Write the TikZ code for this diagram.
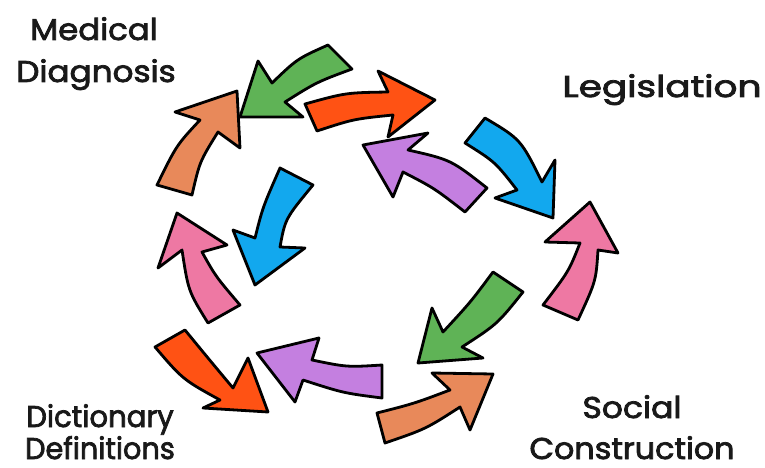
\documentclass[tikz,border=0pt]{standalone}
\usepackage{fontspec}
\setmainfont{Poppins}
\newfontfamily\lblfont{Poppins}[FakeBold=2.5]
\definecolor{csalmon}{HTML}{E8895A}
\definecolor{cred}{HTML}{FF5214}
\definecolor{cgreen}{HTML}{5FB356}
\definecolor{cblue}{HTML}{12A8EE}
\definecolor{cpurple}{HTML}{C47FE0}
\definecolor{cpink}{HTML}{EE78A3}
\begin{document}
\begin{tikzpicture}[x=1pt,y=-1pt,
  arr/.style={draw=black, line width=2.8pt, line join=round},
  lbl/.style={font=\lblfont\fontsize{30}{34}\selectfont, text=black!90, inner sep=0pt, anchor=base}]
\useasboundingbox (0,0) rectangle (765,468);

% 1 salmon upper-left
\filldraw[arr, fill=csalmon] (157,185) .. controls (176.5,145.2) .. (200,120) -- (175,112) -- (237,91) -- (240,148) -- (218,132) .. controls (199.7,161.5) .. (192,195) -- cycle;
% 2 green top
\filldraw[arr, fill=cgreen] (328,45) .. controls (297.3,58.7) .. (272,83) -- (258,61) -- (240,117) -- (303,117) -- (285,102) .. controls (316.5,82.2) .. (352,69) -- cycle;
% 3 red top
\filldraw[arr, fill=cred] (305,104) .. controls (345.8,92.7) .. (388,92) -- (378,71) -- (435,100) -- (388,137) -- (393,115) .. controls (353.7,119) .. (317,131) -- cycle;
% 4 blue upper-right
\filldraw[arr, fill=cblue] (485,118) .. controls (520.8,139.3) .. (542,182) -- (555,160) -- (553,218) -- (495,198) -- (517,190) .. controls (495,161.8) .. (465,143) -- cycle;
% 5 purple upper
\filldraw[arr, fill=cpurple] (487,188) .. controls (450.8,159.7) .. (408,150) -- (428,133) -- (363,145) -- (393,197) -- (403,172) .. controls (434,188) .. (465,212) -- cycle;
% 6 pink right
\filldraw[arr, fill=cpink] (543,305) .. controls (568.8,271.3) .. (580,243) -- (545,242) -- (590,202) -- (618,253) -- (598,250) .. controls (596,281) .. (578,320) -- cycle;
% 7 green lower-right
\filldraw[arr, fill=cgreen] (493,272) .. controls (470.7,302) .. (443,332) -- (432,308) -- (418,363) -- (483,358) -- (462,347) .. controls (497.2,324.2) .. (523,292) -- cycle;
% 8 salmon lower-right
\filldraw[arr, fill=csalmon] (377,413) .. controls (414.2,403.5) .. (450,390) -- (432,373) -- (493,374) -- (470,430) -- (460,407) .. controls (425.8,429) .. (385,443) -- cycle;
% 9 purple bottom
\filldraw[arr, fill=cpurple] (382,365) .. controls (347,367.2) .. (312,360) -- (319,338) -- (257,353) -- (295,402) -- (303,380) .. controls (343.2,393) .. (382,398) -- cycle;
% 10 red bottom-left
\filldraw[arr, fill=cred] (185,330) .. controls (207.7,357.7) .. (233,388) -- (248,358) -- (268,412) -- (203,408) -- (220,400) .. controls (182.8,379.5) .. (155,347) -- cycle;
% 11 pink left
\filldraw[arr, fill=cpink] (208,323) .. controls (188.3,291.2) .. (182,250) -- (158,268) -- (177,213) -- (227,245) -- (202,252) .. controls (215.7,276.5) .. (240,305) -- cycle;
% 12 blue left
\filldraw[arr, fill=cblue] (313,185) .. controls (285.2,218.7) .. (280,247) -- (305,248) -- (255,285) -- (233,230) -- (255,238) .. controls (262.8,207) .. (280,168) -- cycle;

\node[lbl] (med) at (94,40) {\scalebox{1.08}[1]{Medical}};
\node[lbl] (diag) at (96,82) {\scalebox{1.09}[1]{Diagnosis}};
\node[lbl] (leg) at (662,97) {\scalebox{1.25}[1]{Legislation}};
\node[lbl] (dict) at (100,427) {\scalebox{0.97}[1]{Dictionary}};
\node[lbl] (defs) at (100,459) {\scalebox{0.96}[1]{Definitions}};
\node[lbl] (soc) at (632,418) {\scalebox{1.1}[1]{Social}};
\node[lbl] (cons) at (632,459) {\scalebox{1.06}[1]{Construction}};
\end{tikzpicture}
\end{document}
